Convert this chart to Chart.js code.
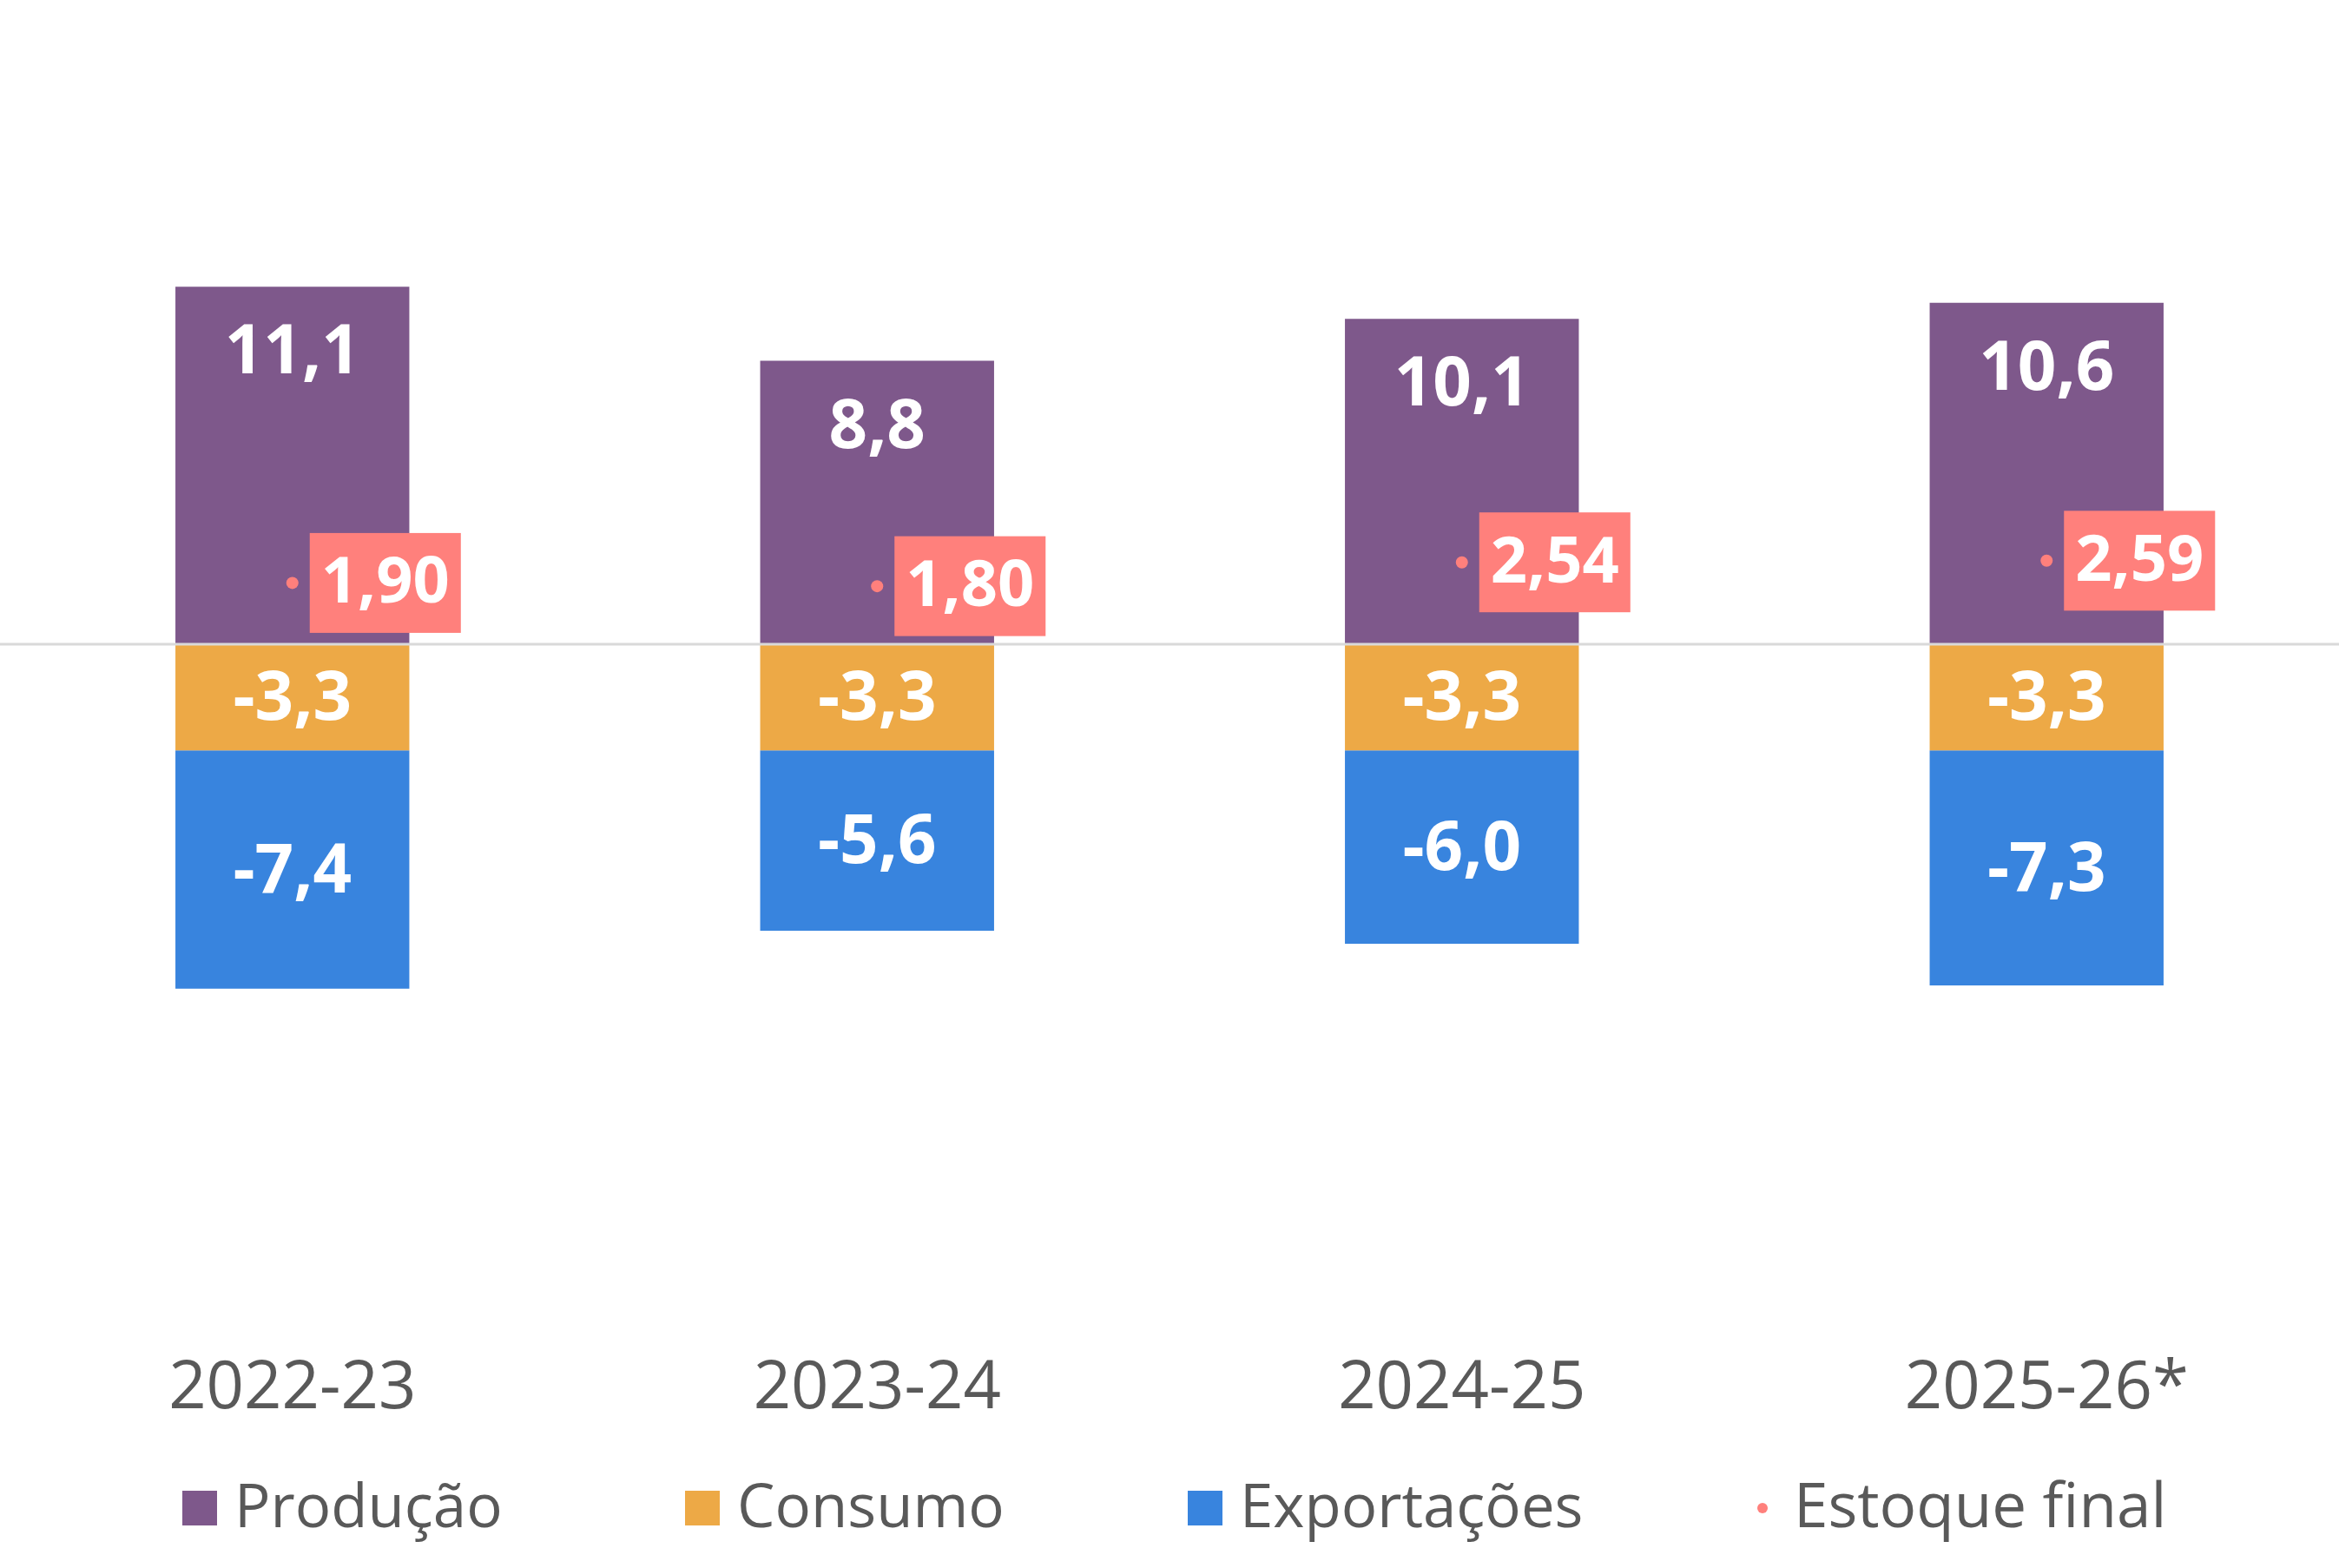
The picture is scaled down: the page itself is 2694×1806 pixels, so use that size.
<!DOCTYPE html>
<html>
<head>
<meta charset="utf-8">
<script src="https://cdn.jsdelivr.net/npm/chart.js@4/dist/chart.umd.min.js"></script>
<style>
  html, body { margin: 0; padding: 0; background: #fff; }
  #wrap { width: 2694px; height: 1806px; }
</style>
</head>
<body>
<div id="wrap"><canvas id="c" width="2694" height="1806"></canvas></div>
<script>
// data
var safras = ["2022-23", "2023-24", "2024-25", "2025-26*"];
var producao = [11.1, 8.8, 10.1, 10.6];
var consumo = [-3.3, -3.3, -3.3, -3.3];
var exportacoes = [-7.4, -5.6, -6.0, -7.3];
var estoqueFinal = [1.90, 1.80, 2.54, 2.59];

var ROXO = "#7e588b";
var LARANJA = "#eda946";
var AZUL = "#3884de";
var SALMAO = "#ff807c";
var CINZA = "#595959";
var FONTE = "'Open Sans', sans-serif";

function fmt(v, d) {
  return v.toFixed(d).replace(".", ",");
}

// zero line on top of the bars
var zeroLine = {
  id: "zeroLine",
  afterDatasetsDraw: function (chart) {
    var ctx = chart.ctx;
    var y = chart.scales.y.getPixelForValue(0);
    ctx.save();
    ctx.strokeStyle = "#d9d9d9";
    ctx.lineWidth = 3;
    ctx.beginPath();
    ctx.moveTo(0, y);
    ctx.lineTo(chart.width, y);
    ctx.stroke();
    ctx.restore();
  },
};

// value labels (bars in white, stock in a salmon box)
var valueLabels = {
  id: "valueLabels",
  afterDraw: function (chart) {
    var ctx = chart.ctx;
    ctx.save();
    ctx.textAlign = "center";
    ctx.textBaseline = "middle";
    chart.data.datasets.forEach(function (ds, i) {
      var meta = chart.getDatasetMeta(i);
      meta.data.forEach(function (el, j) {
        var v = ds.data[j];
        if (ds.type === "line") {
          ctx.font = "bold 74px " + FONTE;
          var txt = fmt(v, 2);
          var w = ctx.measureText(txt).width + 26;
          var h = 115;
          var bx = el.x + 20;
          ctx.fillStyle = SALMAO;
          ctx.fillRect(bx, el.y - h / 2, w, h);
          ctx.fillStyle = "#fff";
          ctx.fillText(txt, bx + w / 2, el.y + 2);
        } else {
          ctx.font = "bold 78px " + FONTE;
          var y;
          if (v > 0) {
            y = el.y + 78; // near the top of the production bar
          } else {
            y = (el.y + el.base) / 2 + 4;
          }
          ctx.fillStyle = "#fff";
          ctx.fillText(fmt(v, 1), el.x, y);
        }
      });
    });
    ctx.restore();
  },
};

// legend laid out in equal columns like the reference
var legendaFixa = {
  id: "legendaFixa",
  afterDraw: function (chart) {
    var ctx = chart.ctx;
    var W = chart.width;
    var yc = 1737;
    var cols = [210, 789, 1368];
    ctx.save();
    ctx.font = "69px " + FONTE;
    ctx.textBaseline = "middle";
    ctx.textAlign = "left";
    for (var i = 0; i < 3; i++) {
      var ds = chart.data.datasets[i];
      var x = cols[i] * W / 2694;
      ctx.fillStyle = ds.backgroundColor;
      ctx.fillRect(x, yc - 20, 40, 40);
      ctx.fillStyle = CINZA;
      ctx.fillText(ds.label, x + 60, yc + 2);
    }
    var ds4 = chart.data.datasets[3];
    var xd = 2030 * W / 2694;
    ctx.fillStyle = ds4.backgroundColor;
    ctx.beginPath();
    ctx.arc(xd, yc, 6, 0, Math.PI * 2);
    ctx.fill();
    ctx.fillStyle = CINZA;
    ctx.font = "71px " + FONTE;
    ctx.fillText(ds4.label, xd + 36, yc + 2);
    ctx.restore();
  },
};

new Chart(document.getElementById("c"), {
  data: {
    labels: safras,
    datasets: [
      { type: "bar", label: "Produção", data: producao, backgroundColor: ROXO, stack: "s", order: 2 },
      { type: "bar", label: "Consumo", data: consumo, backgroundColor: LARANJA, stack: "s", order: 2 },
      { type: "bar", label: "Exportações", data: exportacoes, backgroundColor: AZUL, stack: "s", order: 2 },
      {
        type: "line",
        label: "Estoque final",
        data: estoqueFinal,
        stack: "estoque",
        showLine: false,
        pointRadius: 7,
        pointHoverRadius: 7,
        pointBorderWidth: 0,
        backgroundColor: SALMAO,
        borderColor: SALMAO,
        order: 1,
      },
    ],
  },
  options: {
    responsive: false,
    devicePixelRatio: 1,
    animation: false,
    events: [],
    layout: { autoPadding: false, padding: { top: 0, left: 0, right: 0, bottom: 89 } },
    datasets: { bar: { barPercentage: 0.8, categoryPercentage: 0.5 } },
    plugins: { legend: { display: false }, tooltip: { enabled: false } },
    scales: {
      x: {
        stacked: true,
        grid: { display: false, drawTicks: false },
        border: { display: false },
        ticks: { color: CINZA, padding: 71, font: { family: FONTE, size: 76 } },
      },
      y: {
        stacked: true,
        display: false,
        min: -20,
        max: 20,
      },
    },
  },
  plugins: [zeroLine, valueLabels, legendaFixa],
});
</script>
</body>
</html>
